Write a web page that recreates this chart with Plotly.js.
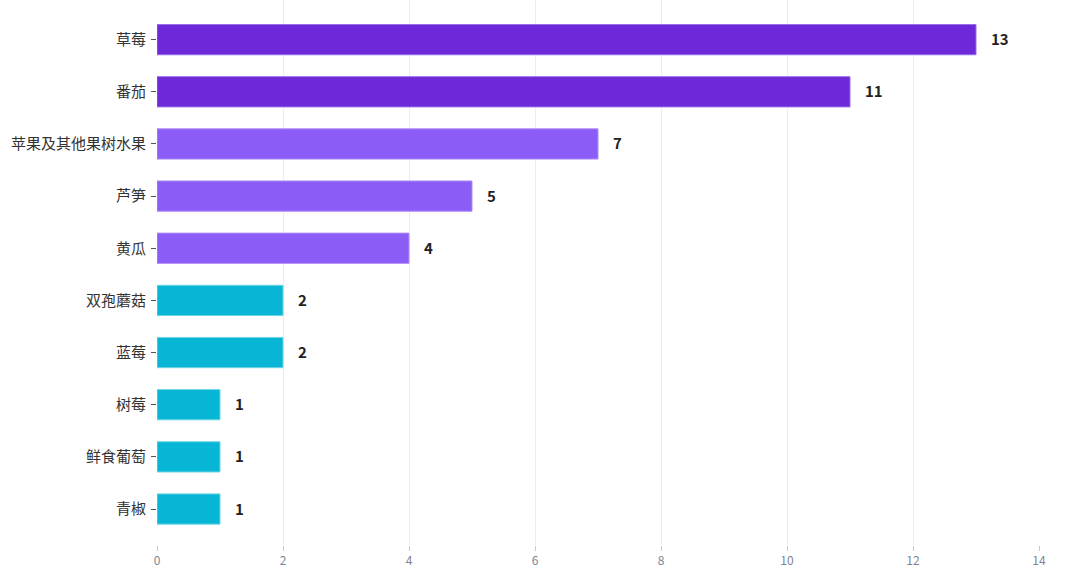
<!DOCTYPE html>
<html>
<head>
<meta charset="utf-8" />
<script src="https://cdn.plot.ly/plotly-3.0.1.min.js"></script>
<style>
  html, body { margin: 0; padding: 0; background: #fff; }
  #chart { width: 1080px; height: 581px; }
</style>
</head>
<body>
<div id="chart"></div>
<script>
  // Kategorien von oben nach unten
  const crops = ["草莓", "番茄", "苹果及其他果树水果", "芦笋", "黄瓜", "双孢蘑菇", "蓝莓", "树莓", "鲜食葡萄", "青椒"];
  const counts = [13, 11, 7, 5, 4, 2, 2, 1, 1, 1];
  const tiers = ["high", "high", "mid", "mid", "mid", "low", "low", "low", "low", "low"];
  const xTicks = [0, 2, 4, 6, 8, 10, 12, 14];

  const tierFill = { high: "#6D28D9", mid: "#8B5CF6", low: "#06B6D4" };
  const tierEdge = { high: "#9B6BEA", mid: "#B08DF9", low: "#6FD6E6" };

  const barTrace = {
    type: "bar",
    orientation: "h",
    x: counts,
    y: crops,
    marker: {
      color: tiers.map((t) => tierFill[t]),
      line: { color: tiers.map((t) => tierEdge[t]), width: 1 },
    },
    hoverinfo: "none",
  };

  const labels = crops.map((c, i) => ({
    x: counts[i],
    y: c,
    xref: "x",
    yref: "y",
    text: String(counts[i]),
    showarrow: false,
    xanchor: "left",
    xshift: 13,
    yshift: 1,
    font: { family: "Noto Sans CJK SC, Noto Sans, sans-serif", size: 15, color: "#222", weight: 700 },
  }));

  const layout = {
    width: 1080,
    height: 581,
    margin: { l: 157, r: 41, t: 0, b: 36 },
    paper_bgcolor: "#fff",
    plot_bgcolor: "#fff",
    bargap: 0.42,
    showlegend: false,
    font: { family: "Noto Sans CJK SC, Noto Sans, sans-serif" },
    xaxis: {
      range: [0, 14],
      tickvals: xTicks,
      ticks: "outside",
      ticklen: 5,
      tickcolor: "#c8c8c8",
      showgrid: true,
      gridcolor: "#ececec",
      zeroline: false,
      showline: false,
      tickfont: { size: 12, color: "#7d8494" },
    },
    yaxis: {
      type: "category",
      categoryorder: "array",
      categoryarray: crops,
      range: [9.69, -0.76],
      ticks: "outside",
      ticklen: 5,
      tickcolor: "#555",
      showgrid: false,
      zeroline: false,
      showline: false,
      ticklabelstandoff: 2,
      tickfont: { size: 15, color: "#333" },
    },
    annotations: labels,
  };

  Plotly.newPlot("chart", [barTrace], layout, { displayModeBar: false, staticPlot: true });
</script>
</body>
</html>
